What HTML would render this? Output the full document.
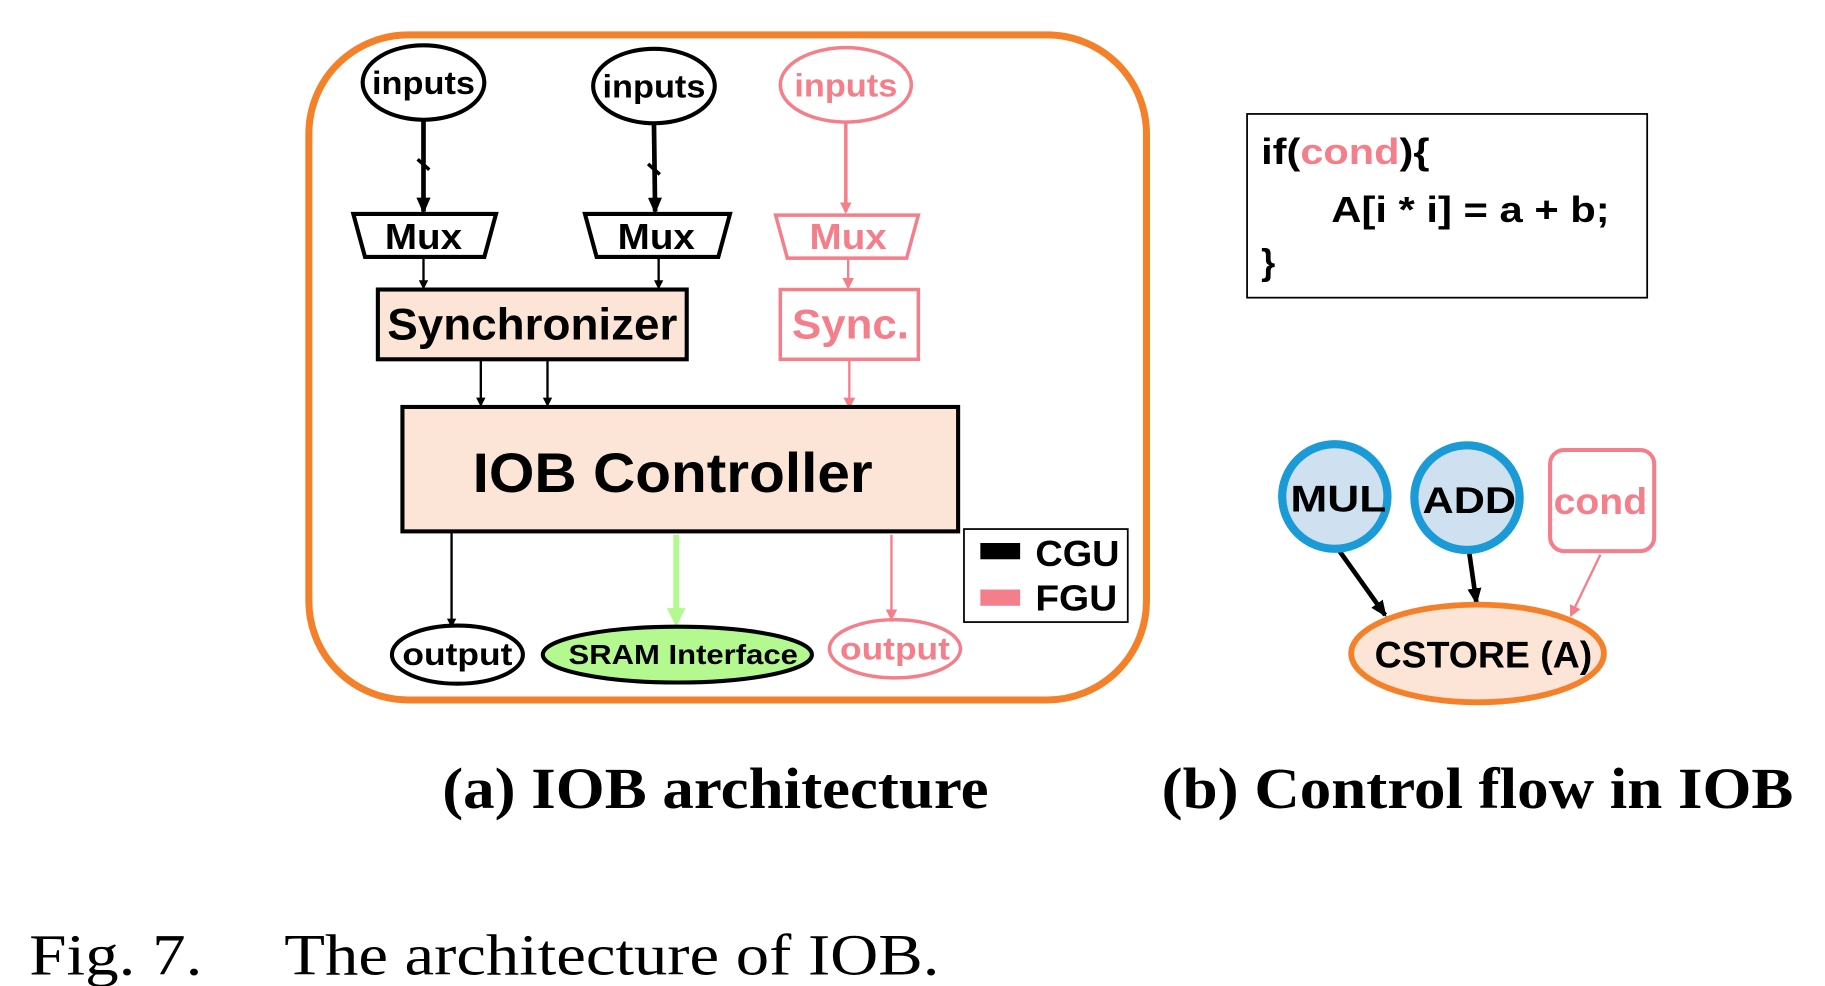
<!DOCTYPE html>
<html><head><meta charset="utf-8"><style>
html,body{margin:0;padding:0;background:#fff;}
svg{display:block;}
.s{font-family:"Liberation Sans",sans-serif;font-weight:bold;}
.r{font-family:"Liberation Serif",serif;}
</style></head><body>
<svg width="1825" height="986" viewBox="0 0 1560 848" preserveAspectRatio="none" xmlns="http://www.w3.org/2000/svg">
<defs>
<marker id="ab" markerWidth="8" markerHeight="8" refX="6" refY="4" orient="auto" markerUnits="userSpaceOnUse"><path d="M0,0 L8,4 L0,8 z" fill="#000"/></marker>
<marker id="ab2" markerWidth="14" markerHeight="12" refX="12" refY="6" orient="auto" markerUnits="userSpaceOnUse"><path d="M0,0 L14,6 L0,12 z" fill="#000"/></marker>
<marker id="ap" markerWidth="10" markerHeight="10" refX="8" refY="5" orient="auto" markerUnits="userSpaceOnUse"><path d="M0,0 L10,5 L0,10 z" fill="#f47f8a"/></marker>
<marker id="ag" markerWidth="16" markerHeight="16" refX="12" refY="8" orient="auto" markerUnits="userSpaceOnUse"><path d="M0,0 L16,8 L0,16 z" fill="#b3f98f"/></marker>
</defs>
<rect x="264" y="30" width="716" height="572" rx="85" fill="none" stroke="#f5802a" stroke-width="6"/>
<ellipse cx="362" cy="71" rx="52" ry="32" fill="#fff" stroke="#000" stroke-width="3.5"/>
<text x="362" y="81" class="s" font-size="28" text-anchor="middle" textLength="88" lengthAdjust="spacingAndGlyphs">inputs</text>
<ellipse cx="559" cy="74" rx="52" ry="32" fill="#fff" stroke="#000" stroke-width="3.5"/>
<text x="559" y="84" class="s" font-size="28" text-anchor="middle" textLength="88" lengthAdjust="spacingAndGlyphs">inputs</text>
<ellipse cx="723" cy="73" rx="56" ry="32" fill="#fff" stroke="#f47f8a" stroke-width="3"/>
<text x="723" y="83" class="s" font-size="28" text-anchor="middle" fill="#f47f8a" textLength="88" lengthAdjust="spacingAndGlyphs">inputs</text>
<line x1="362" y1="103" x2="362" y2="182" stroke="#000" stroke-width="4" marker-end="url(#ab2)"/>
<line x1="357" y1="137" x2="367" y2="146" stroke="#000" stroke-width="3"/>
<line x1="559" y1="106" x2="560" y2="182" stroke="#000" stroke-width="4" marker-end="url(#ab2)"/>
<line x1="554" y1="141" x2="564" y2="150" stroke="#000" stroke-width="3"/>
<line x1="723" y1="105" x2="723" y2="182" stroke="#f47f8a" stroke-width="3" marker-end="url(#ap)"/>
<polygon points="302,184 424,184 414,221 312,221" fill="#fff" stroke="#000" stroke-width="3.5"/>
<text x="362" y="214" class="s" font-size="31" text-anchor="middle" textLength="66" lengthAdjust="spacingAndGlyphs">Mux</text>
<polygon points="500,184 624,184 614,221 510,221" fill="#fff" stroke="#000" stroke-width="3.5"/>
<text x="561" y="214" class="s" font-size="31" text-anchor="middle" textLength="66" lengthAdjust="spacingAndGlyphs">Mux</text>
<polygon points="663,185 785,185 775,222 673,222" fill="#fff" stroke="#f47f8a" stroke-width="3"/>
<text x="725" y="214" class="s" font-size="31" text-anchor="middle" fill="#f47f8a" textLength="66" lengthAdjust="spacingAndGlyphs">Mux</text>
<line x1="362" y1="221" x2="362" y2="247" stroke="#000" stroke-width="2" marker-end="url(#ab)"/>
<line x1="563" y1="221" x2="563" y2="247" stroke="#000" stroke-width="2" marker-end="url(#ab)"/>
<line x1="725" y1="222" x2="725" y2="247" stroke="#f47f8a" stroke-width="2" marker-end="url(#ap)"/>
<rect x="323" y="249" width="264" height="60" fill="#fce4d6" stroke="#000" stroke-width="3.5"/>
<text x="455" y="292" class="s" font-size="38" text-anchor="middle" textLength="248" lengthAdjust="spacingAndGlyphs">Synchronizer</text>
<rect x="667" y="249" width="118" height="60" fill="#fff" stroke="#f47f8a" stroke-width="3"/>
<text x="727" y="291" class="s" font-size="36" text-anchor="middle" fill="#f47f8a" textLength="100" lengthAdjust="spacingAndGlyphs">Sync.</text>
<line x1="411" y1="309" x2="411" y2="348" stroke="#000" stroke-width="2" marker-end="url(#ab)"/>
<line x1="468" y1="309" x2="468" y2="348" stroke="#000" stroke-width="2" marker-end="url(#ab)"/>
<line x1="726" y1="309" x2="726" y2="350" stroke="#f47f8a" stroke-width="2" marker-end="url(#ap)"/>
<rect x="344" y="350" width="475" height="107" fill="#fce4d6" stroke="#000" stroke-width="3.5"/>
<text x="575" y="423" class="s" font-size="48" text-anchor="middle" textLength="342" lengthAdjust="spacingAndGlyphs">IOB Controller</text>
<line x1="386" y1="457" x2="386" y2="538" stroke="#000" stroke-width="2" marker-end="url(#ab)"/>
<line x1="578" y1="460" x2="578" y2="535" stroke="#b3f98f" stroke-width="5" marker-end="url(#ag)"/>
<line x1="762" y1="460" x2="762" y2="532" stroke="#f47f8a" stroke-width="2" marker-end="url(#ap)"/>
<ellipse cx="391" cy="563" rx="56" ry="25" fill="#fff" stroke="#000" stroke-width="3.5"/>
<text x="391" y="572" class="s" font-size="27" text-anchor="middle" textLength="94" lengthAdjust="spacingAndGlyphs">output</text>
<ellipse cx="579" cy="563" rx="115" ry="24" fill="#b3f98f" stroke="#000" stroke-width="3.5"/>
<text x="584" y="571" class="s" font-size="24" text-anchor="middle" textLength="196" lengthAdjust="spacingAndGlyphs">SRAM Interface</text>
<ellipse cx="765" cy="558" rx="56" ry="25" fill="#fff" stroke="#f47f8a" stroke-width="3"/>
<text x="765" y="567" class="s" font-size="27" text-anchor="middle" fill="#f47f8a" textLength="94" lengthAdjust="spacingAndGlyphs">output</text>
<rect x="824" y="455" width="140" height="80" fill="#fff" stroke="#000" stroke-width="1.5"/>
<rect x="838" y="467" width="34" height="14" fill="#000"/>
<rect x="838" y="507" width="34" height="14" fill="#f47f8a"/>
<text x="885" y="487" class="s" font-size="31" textLength="72" lengthAdjust="spacingAndGlyphs">CGU</text>
<text x="885" y="525" class="s" font-size="31" textLength="70" lengthAdjust="spacingAndGlyphs">FGU</text>
<rect x="1066" y="98" width="342" height="158" fill="#fff" stroke="#000" stroke-width="1.5"/>
<text x="1078" y="141" class="s" font-size="31" textLength="144" lengthAdjust="spacingAndGlyphs">if(<tspan fill="#f47f8a">cond</tspan>){</text>
<text x="1138" y="191" class="s" font-size="31" textLength="238" lengthAdjust="spacingAndGlyphs">A[i * i] = a + b;</text>
<text x="1078" y="236" class="s" font-size="31">}</text>
<line x1="1145" y1="474" x2="1184" y2="529" stroke="#000" stroke-width="4" marker-end="url(#ab2)"/>
<line x1="1256" y1="476" x2="1262" y2="518" stroke="#000" stroke-width="4" marker-end="url(#ab2)"/>
<line x1="1368" y1="477" x2="1343" y2="529" stroke="#f47f8a" stroke-width="2" marker-end="url(#ap)"/>
<circle cx="1141" cy="427" r="45" fill="#cfe0f0" stroke="#1a9ad6" stroke-width="7"/>
<text x="1144" y="440" class="s" font-size="32" text-anchor="middle" textLength="82" lengthAdjust="spacingAndGlyphs">MUL</text>
<circle cx="1254" cy="428" r="45" fill="#cfe0f0" stroke="#1a9ad6" stroke-width="7"/>
<text x="1256" y="441" class="s" font-size="32" text-anchor="middle" textLength="80" lengthAdjust="spacingAndGlyphs">ADD</text>
<rect x="1325" y="387" width="89" height="87" rx="12" fill="#fff" stroke="#f47f8a" stroke-width="3.5"/>
<text x="1368" y="442" class="s" font-size="32" text-anchor="middle" fill="#f47f8a" textLength="80" lengthAdjust="spacingAndGlyphs">cond</text>
<ellipse cx="1263" cy="562" rx="108" ry="42" fill="#fce4d6" stroke="#f5802a" stroke-width="5"/>
<text x="1268" y="574" class="s" font-size="32" text-anchor="middle" textLength="186" lengthAdjust="spacingAndGlyphs">CSTORE (A)</text>
<text x="378" y="695" class="r" font-size="50" font-weight="bold" textLength="467" lengthAdjust="spacingAndGlyphs">(a) IOB architecture</text>
<text x="993" y="695" class="r" font-size="50" font-weight="bold" textLength="540" lengthAdjust="spacingAndGlyphs">(b) Control flow in IOB</text>
<text x="25" y="838" class="r" font-size="50" textLength="148" lengthAdjust="spacingAndGlyphs">Fig. 7.</text>
<text x="243" y="838" class="r" font-size="50" textLength="560" lengthAdjust="spacingAndGlyphs">The architecture of IOB.</text>
</svg>
</body></html>
